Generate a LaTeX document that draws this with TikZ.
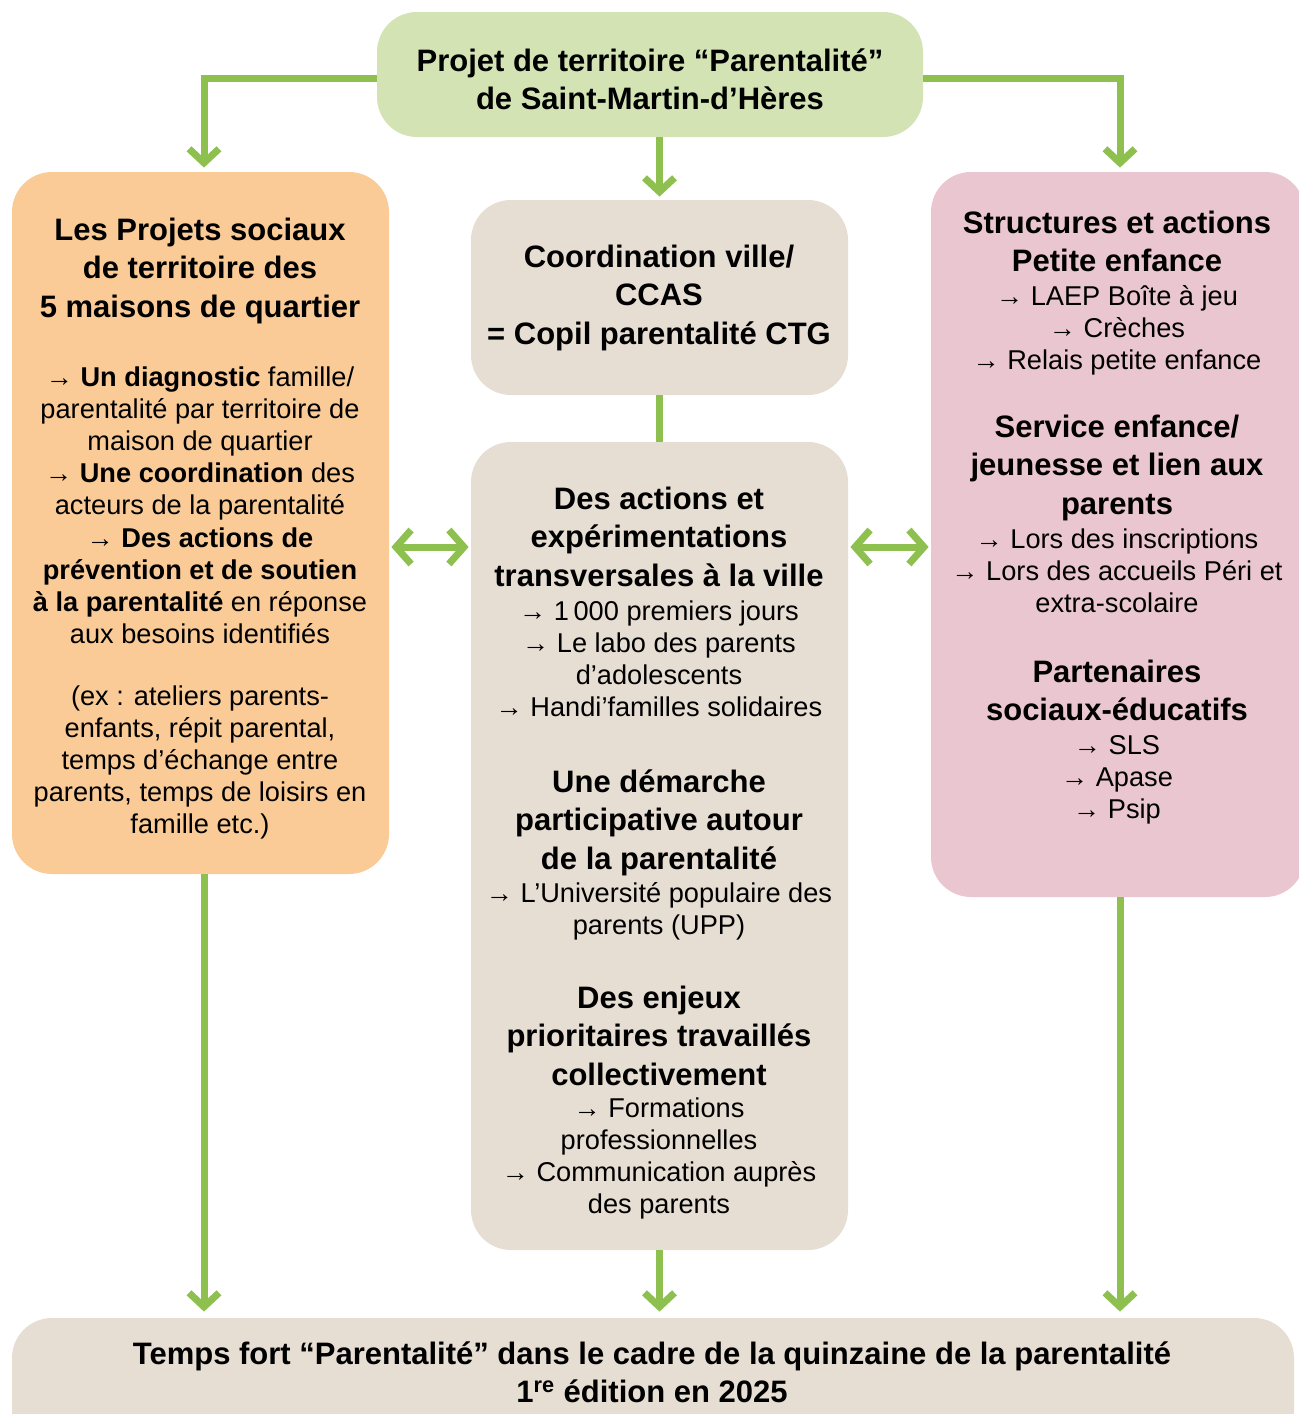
\documentclass[tikz,border=0pt]{standalone}
\usepackage{fontspec}
\setmainfont{Liberation Sans}
\usetikzlibrary{arrows.meta}
\definecolor{grn}{HTML}{8DC04F}
\definecolor{topc}{HTML}{D3E3B4}
\definecolor{orng}{HTML}{FACB96}
\definecolor{beig}{HTML}{E6DDD3}
\definecolor{pink}{HTML}{EAC6D0}
\newcommand\stk[1]{\vtop{\lineskiplimit=-100pt\lineskip=0pt\halign{\hfil##\hfil\cr#1\crcr}}}
\begin{document}
\begin{tikzpicture}[x=0.5pt,y=-0.5pt,
  box/.style={draw=none, rounded corners=20pt, inner sep=0pt},
  hd/.style={font=\bfseries\fontsize{15.5}{19.25}\selectfont, anchor=base, inner sep=0pt},
  bd/.style={font=\fontsize{13.6}{16.1}\selectfont, anchor=base, inner sep=0pt},
  ln/.style={draw=grn, line width=3.5pt},
  arr/.style={ln, -{Straight Barb[length=7pt,width=15pt]}},
  darr/.style={ln, {Straight Barb[length=7.5pt,width=17pt]}-{Straight Barb[length=7.5pt,width=17pt]}}]
\useasboundingbox (0,0) rectangle (1298,1414);
% boxes
\node[box, fill=topc, minimum width=273pt, minimum height=62.5pt] (T) at (650,74.5) {};
\node[box, fill=orng, minimum width=188.5pt, minimum height=351pt] (L) at (200.5,523) {};
\node[box, fill=beig, minimum width=188.5pt, minimum height=97.5pt] (C1) at (659.5,297.5) {};
\node[box, fill=beig, minimum width=188.5pt, minimum height=404pt] (C2) at (659.5,846) {};
\node[box, fill=pink, minimum width=187pt, minimum height=362.5pt] (R) at (1118,534.5) {};
\node[box, fill=beig, minimum width=641pt, minimum height=66pt] (B) at (653,1384) {};
% connectors
\coordinate (bt) at ([yshift=3pt]B.north);
\coordinate (m) at (0,547);
\draw[arr] ([yshift=-1.75pt]T.west) -| ([xshift=1.75pt,yshift=2pt]L.north);
\draw[arr] ([yshift=-1.75pt]T.east) -| ([xshift=1pt,yshift=2pt]R.north);
\draw[arr] (C1.north |- T.south) -- ([yshift=1.5pt]C1.north);
\draw[ln] (C1.south) -- (C2.north);
\draw[darr] ([xshift=1pt]L.east |- m) -- ([xshift=-1pt]C2.west |- m);
\draw[darr] ([xshift=1pt]C2.east |- m) -- ([xshift=-1pt]R.west |- m);
\draw[arr] ([xshift=1.75pt]L.south) -- ([xshift=1.75pt]L.south |- bt);
\draw[arr] (C2.south) -- (C2.south |- bt);
\draw[arr] ([xshift=1pt]R.south) -- ([xshift=1pt]R.south |- bt);
% texts
\node[hd] (tT) at (650,71) {\stk{Projet de territoire “Parentalité”\cr de Saint-Martin-d’Hères}};
\node[hd] (tL1) at (200,240) {\stk{Les Projets sociaux\cr de territoire des\cr 5 maisons de quartier}};
\node[bd] (tL2) at (200,386) {\stk{\textbf{→ Un diagnostic} famille/\cr parentalité par territoire de\cr maison de quartier\cr \textbf{→ Une coordination} des\cr acteurs de la parentalité\cr \textbf{→ Des actions de}\cr \textbf{prévention et de soutien}\cr \textbf{à la parentalité} en réponse\cr aux besoins identifiés}};
\node[bd] (tL3) at (200,705) {\stk{(ex : ateliers parents-\cr enfants, répit parental,\cr temps d’échange entre\cr parents, temps de loisirs en\cr famille etc.)}};
\node[hd] (tC1) at (659,267) {\stk{Coordination ville/\cr CCAS\cr = Copil parentalité CTG}};
\node[hd] (tC2) at (659,509) {\stk{Des actions et\cr expérimentations\cr transversales à la ville}};
\node[bd] (tC3) at (659,620) {\stk{→ 1\,000 premiers jours\cr → Le labo des parents\cr d’adolescents\cr → Handi’familles solidaires}};
\node[hd] (tC4) at (659,792) {\stk{Une démarche\cr participative autour\cr de la parentalité}};
\node[bd] (tC5) at (659,902) {\stk{→ L’Université populaire des\cr parents (UPP)}};
\node[hd] (tC6) at (659,1008) {\stk{Des enjeux\cr prioritaires travaillés\cr collectivement}};
\node[bd] (tC7) at (659,1117) {\stk{→ Formations\cr professionnelles\cr → Communication auprès\cr des parents}};
\node[hd] (tR1) at (1117,233) {\stk{Structures et actions\cr Petite enfance}};
\node[bd] (tR2) at (1117,305) {\stk{→ LAEP Boîte à jeu\cr → Crèches\cr → Relais petite enfance}};
\node[hd] (tR3) at (1117,437) {\stk{Service enfance/\cr jeunesse et lien aux\cr parents}};
\node[bd] (tR4) at (1117,548) {\stk{→ Lors des inscriptions\cr → Lors des accueils Péri et\cr extra-scolaire}};
\node[hd] (tR5) at (1117,682) {\stk{Partenaires\cr sociaux-éducatifs}};
\node[bd] (tR6) at (1117,754) {\stk{→ SLS\cr → Apase\cr → Psip}};
\node[hd] (tB) at (652,1364) {\stk{Temps fort “Parentalité” dans le cadre de la quinzaine de la parentalité\cr 1\textsuperscript{re} édition en 2025}};
\end{tikzpicture}
\end{document}
